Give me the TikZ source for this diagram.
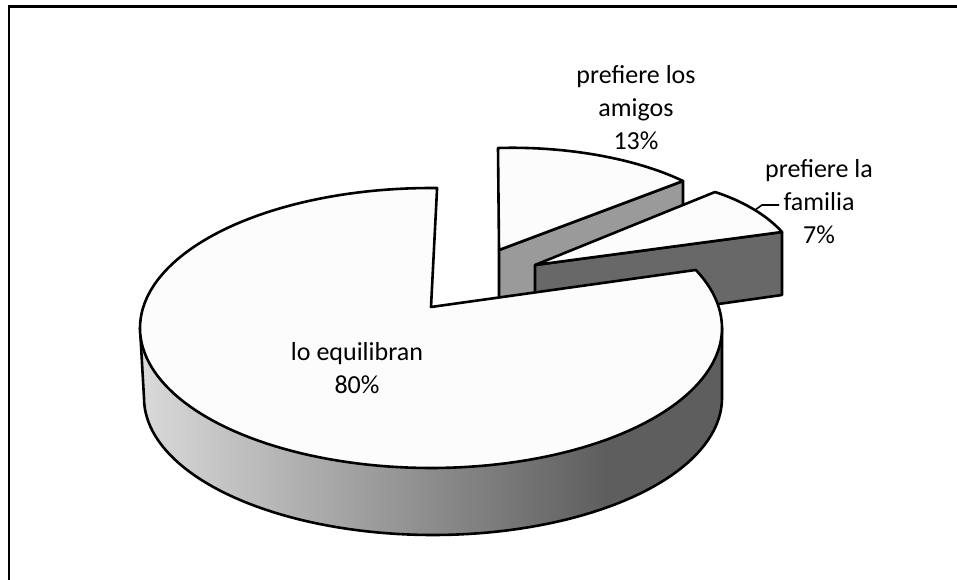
\documentclass[tikz,border=0pt]{standalone}
\usepackage{fontspec}
\setmainfont{Carlito}
\definecolor{topc}{HTML}{FCFCFC}
\definecolor{midg}{HTML}{9A9A9A}
\definecolor{darkg}{HTML}{686868}
\definecolor{lsh}{HTML}{DADADA}
\definecolor{dsh}{HTML}{5E5E5E}
\pgfdeclarehorizontalshading{mainside}{100bp}{color(0bp)=(lsh); color(25bp)=(lsh); color(65bp)=(dsh); color(100bp)=(dsh)}
\tikzset{
  piece/.style={draw=black, line width=2.6pt, line join=round},
  lbl/.style={align=center, inner sep=0pt, font=\fontsize{26}{33}\selectfont},
  frame/.style={draw=black, line width=2.6pt},
  leader/.style={draw=black, line width=1.6pt}
}
\begin{document}
\begin{tikzpicture}[x=1pt,y=-1pt]
\useasboundingbox (0,0) rectangle (957,580);
\clip (0,0) rectangle (957,580);
\fill[white] (0,0) rectangle (957,580);
\draw[frame] (9,6.5) rectangle (1000,700);

% 13% slice side
\draw[piece, fill=midg] (499,250) -- (683,181) -- (683,250) -- (499,318) -- cycle;
% 13% slice top
\draw[piece, fill=topc] (499,250) -- (498,148) .. controls (565,146) and (635,158) .. (683,181) -- cycle;

% 7% slice side
\draw[piece, fill=darkg] (535,265) -- (782,232) -- (782,295) -- (535,330) -- cycle;
% 7% slice top
\draw[piece, fill=topc] (535,265) -- (715,192) .. controls (740,200) and (766,214) .. (782,232) -- cycle;

% main slice side
\shade[shading=mainside] plot[domain=0:180, samples=90] ({431+291*cos(\x)},{328+140*sin(\x)})
   -- plot[domain=180:0, samples=90] ({433+289*cos(\x)},{398+137*sin(\x)}) -- cycle;
\draw[piece] (722,328) -- (722,398) -- plot[domain=0:180, samples=90] ({433+289*cos(\x)},{398+137*sin(\x)}) -- (140,328);
% main slice top
\draw[piece, fill=topc] (431,307) -- plot[domain=-24.5:271.2, samples=150] ({431+291*cos(\x)},{328+140*sin(\x)}) -- cycle;

% leader for 7%
\coordinate (ld0) at (755,210);
\coordinate (ld1) at (762,205);
\coordinate (ld2) at (779,205);
\draw[leader] (ld0) -- (ld1) -- (ld2);

\node[lbl] (l13) at (636,108) {prefiere los\\amigos\\13\%};
\node[lbl] (l7) at (819,202) {prefiere la\\familia\\7\%};
\node[lbl] (l80) at (357,368) {lo equilibran\\80\%};
\end{tikzpicture}
\end{document}
